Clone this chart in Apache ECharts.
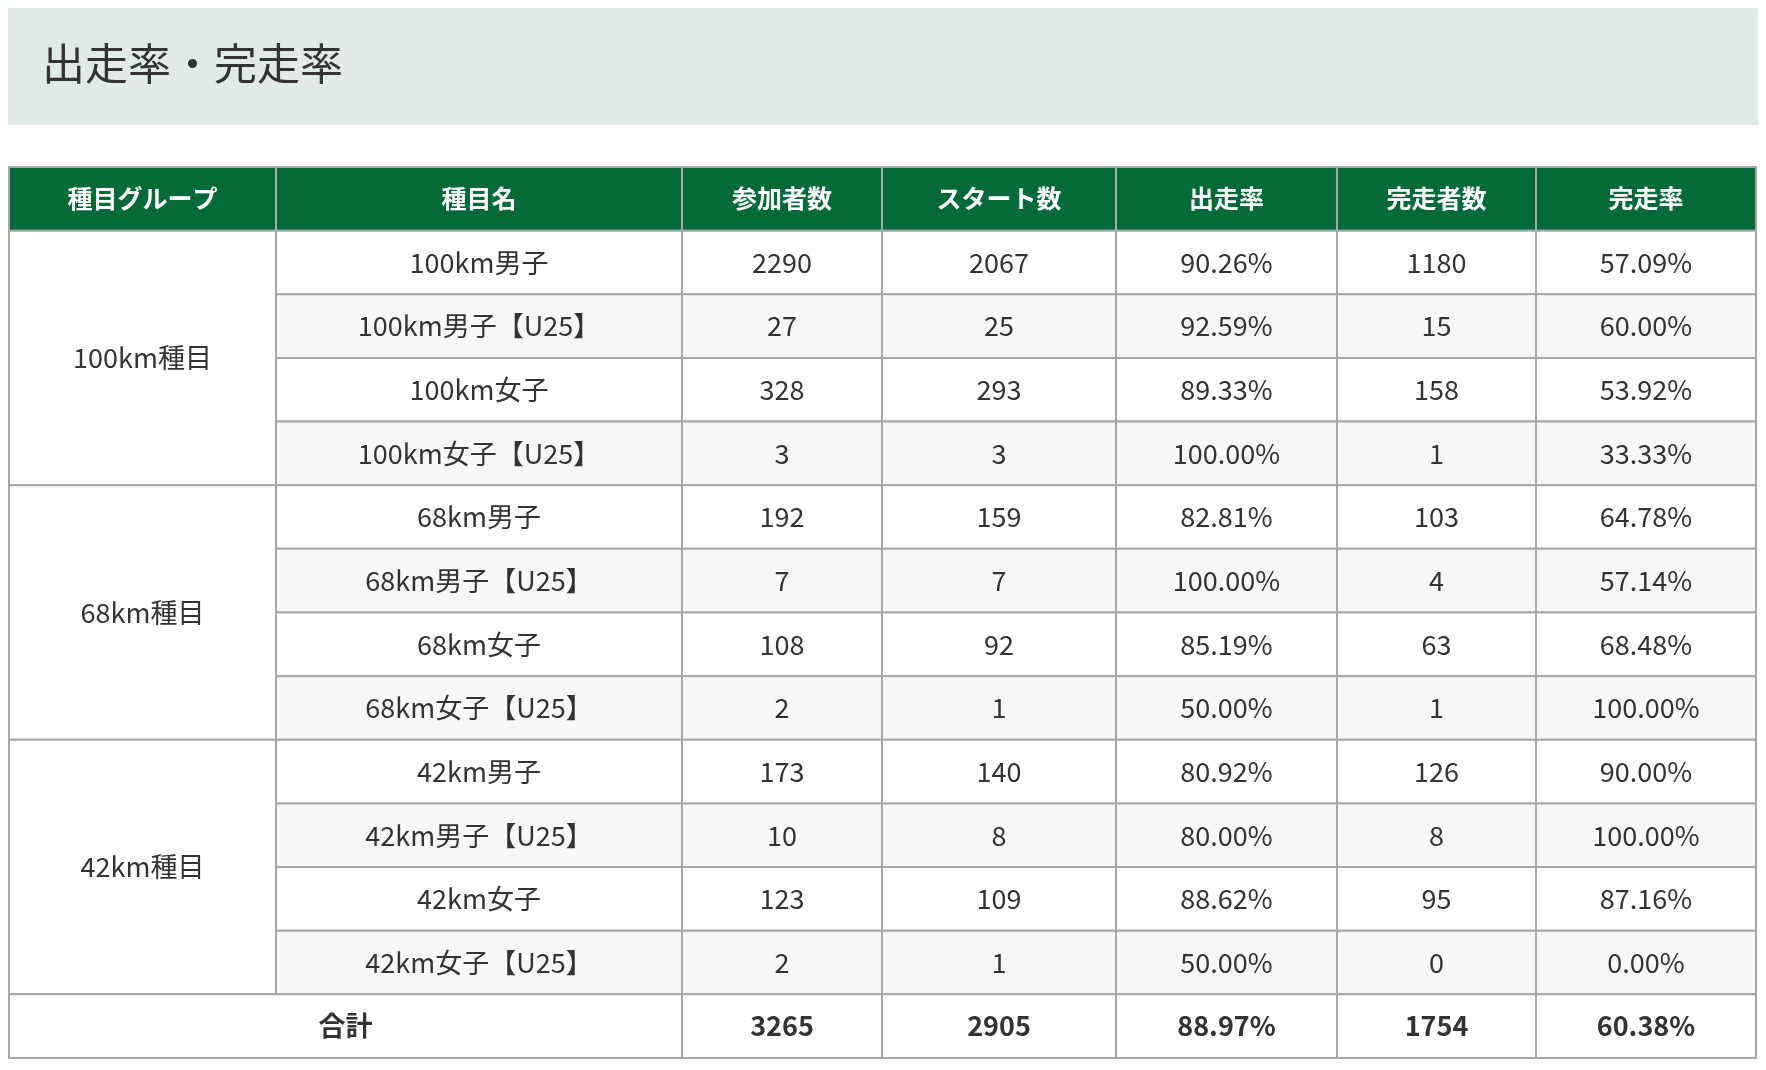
<!DOCTYPE html>
<html>
<head>
<meta charset="utf-8">
<script src="https://cdn.jsdelivr.net/npm/echarts@6/dist/echarts.min.js"></script>
<style>
  html, body { margin: 0; padding: 0; background: #fff; }
  #chart { width: 1766px; height: 1070px; }
</style>
</head>
<body>
<div id="chart"></div>
<script>
const title = '出走率・完走率';
const headers = ['種目グループ', '種目名', '参加者数', 'スタート数', '出走率', '完走者数', '完走率'];
const groups = ['100km種目', '68km種目', '42km種目'];
const events = [
  '100km男子', '100km男子【U25】', '100km女子', '100km女子【U25】',
  '68km男子', '68km男子【U25】', '68km女子', '68km女子【U25】',
  '42km男子', '42km男子【U25】', '42km女子', '42km女子【U25】'
];
const entrants = [2290, 27, 328, 3, 192, 7, 108, 2, 173, 10, 123, 2];
const starters = [2067, 25, 293, 3, 159, 7, 92, 1, 140, 8, 109, 1];
const startRate = ['90.26%', '92.59%', '89.33%', '100.00%', '82.81%', '100.00%', '85.19%', '50.00%', '80.92%', '80.00%', '88.62%', '50.00%'];
const finishers = [1180, 15, 158, 1, 103, 4, 63, 1, 126, 8, 95, 0];
const finishRate = ['57.09%', '60.00%', '53.92%', '33.33%', '64.78%', '57.14%', '68.48%', '100.00%', '90.00%', '100.00%', '87.16%', '0.00%'];
const totalLabel = '合計';
const totals = [3265, 2905, '88.97%', 1754, '60.38%'];

// relative column widths
const colWidths = [267, 406, 200, 234, 221, 199, 220];
const colEdges = [0];
colWidths.forEach((w) => colEdges.push(colEdges[colEdges.length - 1] + w));
const nRows = events.length + 2; // header + rows + total

// cells: [x0, x1, y0, y1, text, kind]
const cells = [];
headers.forEach((h, c) => cells.push([colEdges[c], colEdges[c + 1], 0, 1, h, 'head']));
groups.forEach((g, i) => cells.push([colEdges[0], colEdges[1], 1 + i * 4, 5 + i * 4, g, 'group']));
events.forEach((ev, r) => {
  const vals = [ev, entrants[r], starters[r], startRate[r], finishers[r], finishRate[r]];
  const kind = r % 2 === 1 ? 'alt' : 'body';
  vals.forEach((v, k) => cells.push([colEdges[k + 1], colEdges[k + 2], r + 1, r + 2, String(v), kind]));
});
cells.push([colEdges[0], colEdges[2], nRows - 1, nRows, totalLabel, 'total']);
totals.forEach((v, k) => cells.push([colEdges[k + 2], colEdges[k + 3], nRows - 1, nRows, String(v), 'total']));

const chart = echarts.init(document.getElementById('chart'));
chart.setOption({
  animation: false,
  graphic: [
    { type: 'rect', shape: { x: 8, y: 8, width: 1750, height: 117 }, style: { fill: '#e1ebe5' } },
    { type: 'text', left: 42, top: 42, style: { text: title, fill: '#333', fontSize: 43, fontFamily: 'Noto Sans CJK JP' } }
  ],
  grid: { left: 9, right: 10, top: 167, bottom: 12 },
  xAxis: { type: 'value', min: 0, max: colEdges[colEdges.length - 1], show: false },
  yAxis: { type: 'value', min: 0, max: nRows, inverse: true, show: false },
  series: [{
    type: 'custom',
    coordinateSystem: 'cartesian2d',
    data: cells,
    encode: { x: [0, 1], y: [2, 3] },
    renderItem: (params, api) => {
      const p0 = api.coord([api.value(0), api.value(2)]);
      const p1 = api.coord([api.value(1), api.value(3)]);
      const kind = cells[params.dataIndex][5];
      const text = cells[params.dataIndex][4];
      const fills = { head: '#046a38', alt: '#f7f7f7', body: '#fff', group: '#fff', total: '#fff' };
      const isHead = kind === 'head';
      const bold = isHead || kind === 'total';
      return {
        type: 'group',
        children: [
          {
            type: 'rect',
            shape: { x: p0[0], y: p0[1], width: p1[0] - p0[0], height: p1[1] - p0[1] },
            style: { fill: fills[kind], stroke: '#a8a8a8', lineWidth: 2 }
          },
          {
            type: 'text',
            x: (p0[0] + p1[0]) / 2,
            y: (p0[1] + p1[1]) / 2,
            style: {
              text: text,
              align: 'center',
              verticalAlign: 'middle',
              fill: isHead ? '#fff' : '#333',
              fontSize: isHead ? 25 : 27,
              fontWeight: bold ? 'bold' : 'normal',
              fontFamily: 'Noto Sans CJK JP'
            }
          }
        ]
      };
    }
  }]
});
</script>
</body>
</html>
